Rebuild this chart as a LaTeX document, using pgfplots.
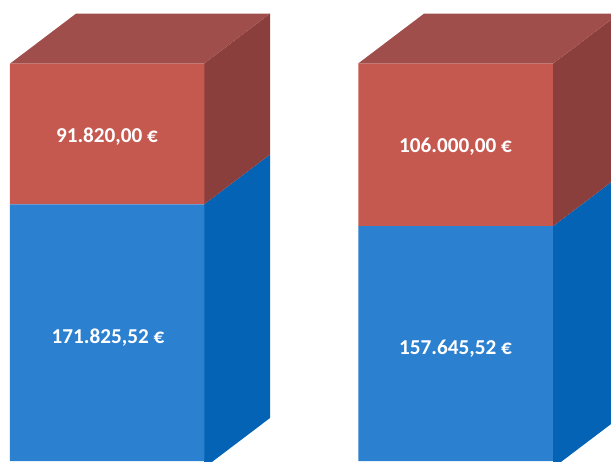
\documentclass[border=0pt]{standalone}
\usepackage{pgfplots}
\pgfplotsset{compat=1.18}
\usepackage{fontspec}
\setmainfont{Carlito}
\definecolor{bluefront}{HTML}{2B80CF}
\definecolor{blueside}{HTML}{0563B5}
\definecolor{redfront}{HTML}{C6594F}
\definecolor{redtop}{HTML}{A04E4C}
\definecolor{redside}{HTML}{8B3F3D}
\pgfplotsset{base/.style={
  scale only axis, width=611pt, height=461pt,
  xmin=0, xmax=611, ymin=4564, ymax=305136,
  hide axis, clip=true, at={(0,0)}, anchor=south west}}
\tikzset{lab/.style={text=white, font=\fontsize{21.2}{24}\selectfont\bfseries, inner sep=0pt, anchor=center}}
\begin{document}
\begin{tikzpicture}
\path[use as bounding box] (0,0) rectangle (611pt,461pt);
\begin{axis}[base]
% side and top faces: x in picture units, y in euros
\addplot[fill=blueside, draw=none] coordinates {(204,0) (270,32600) (270,204426) (204,171826)} -- cycle;
\addplot[fill=redside, draw=none] coordinates {(204,171826) (270,204426) (270,296246) (204,263646)} -- cycle;
\addplot[fill=redtop, draw=none] coordinates {(10,263646) (76,296246) (270,296246) (204,263646)} -- cycle;
\addplot[fill=blueside, draw=none] coordinates {(553,0) (619,32600) (619,190246) (553,157646)} -- cycle;
\addplot[fill=redside, draw=none] coordinates {(553,157646) (619,190246) (619,296246) (553,263646)} -- cycle;
\addplot[fill=redtop, draw=none] coordinates {(358,263646) (424,296246) (619,296246) (553,263646)} -- cycle;
\end{axis}
\begin{axis}[base, ybar, bar shift=0pt, stack plots=y, bar width=194.5]
\addplot[fill=bluefront, draw=none] coordinates {(107,171825.52) (455.5,157645.52)};
\addplot[fill=redfront, draw=none] coordinates {(107,91820) (455.5,106000)};
\end{axis}
\begin{axis}[base]
\node[lab] at (axis cs:108,85000) {171.825,52 €};
\node[lab] at (axis cs:107,216000) {91.820,00 €};
\node[lab] at (axis cs:455.5,78000) {157.645,52 €};
\node[lab] at (axis cs:455.5,209400) {106.000,00 €};
\end{axis}
\end{tikzpicture}
\end{document}
